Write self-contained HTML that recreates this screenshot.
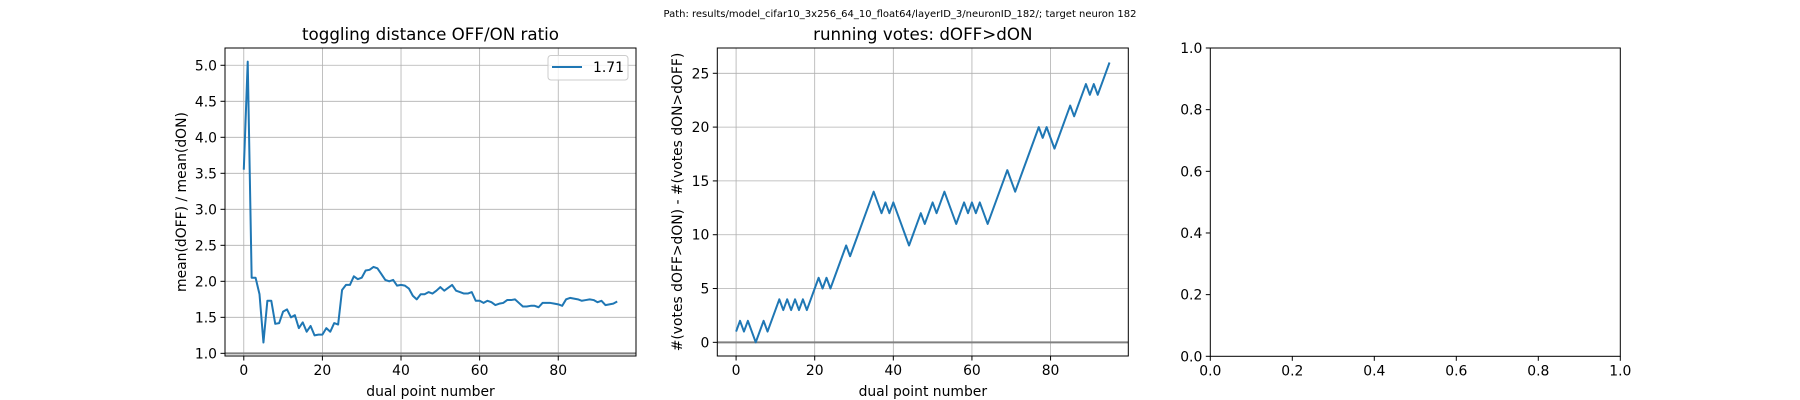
<!DOCTYPE html>
<html><head><meta charset="utf-8"><style>
html,body{margin:0;padding:0;background:#fff;}
svg{display:block;font-family:"DejaVu Sans","Liberation Sans",sans-serif;}
</style></head><body>
<svg id="fig" width="1800" height="400" viewBox="0 0 1800 400" xmlns="http://www.w3.org/2000/svg">
<rect width="1800" height="400" fill="#fff"/>
<text x="900" y="17" font-size="10" text-anchor="middle" fill="#000">Path: results/model_cifar10_3x256_64_10_float64/layerID_3/neuronID_182/; target neuron 182</text>
</svg>
<script>
const ratioValues=[3.55,5.05,2.05,2.05,1.82,1.15,1.73,1.73,1.41,1.42,1.58,1.61,1.5,1.53,1.35,1.43,1.3,1.38,1.25,1.26,1.26,1.35,1.3,1.42,1.4,1.88,1.95,1.95,2.07,2.03,2.05,2.15,2.16,2.2,2.18,2.1,2.02,2.0,2.02,1.94,1.95,1.94,1.9,1.8,1.75,1.82,1.82,1.85,1.83,1.87,1.92,1.87,1.91,1.95,1.87,1.85,1.83,1.83,1.85,1.73,1.73,1.7,1.73,1.71,1.67,1.69,1.7,1.74,1.74,1.75,1.7,1.65,1.65,1.66,1.66,1.64,1.7,1.7,1.7,1.69,1.68,1.66,1.75,1.77,1.76,1.75,1.73,1.74,1.75,1.74,1.71,1.73,1.67,1.68,1.69,1.72];
const voteValues=[1,2,1,2,1,0,1,2,1,2,3,4,3,4,3,4,3,4,3,4,5,6,5,6,5,6,7,8,9,8,9,10,11,12,13,14,13,12,13,12,13,12,11,10,9,10,11,12,11,12,13,12,13,14,13,12,11,12,13,12,13,12,13,12,11,12,13,14,15,16,15,14,15,16,17,18,19,20,19,20,19,18,19,20,21,22,21,22,23,24,23,24,23,24,25,26];
const ratioYTicks=["1.0","1.5","2.0","2.5","3.0","3.5","4.0","4.5","5.0"];
const voteYTicks=["0","5","10","15","20","25"];
const xTicks=["0","20","40","60","80"];
const emptyTicks=["0.0","0.2","0.4","0.6","0.8","1.0"];
const legendLabel="1.71";

const NS="http://www.w3.org/2000/svg";
const fig=document.getElementById('fig');
function el(tag,attrs,parent,text){const e=document.createElementNS(NS,tag);for(const k in attrs)e.setAttribute(k,attrs[k]);if(text!==undefined)e.textContent=text;(parent||fig).appendChild(e);return e;}
function scale(d0,d1,r0,r1){return v=>r0+(v-d0)*(r1-r0)/(d1-d0);}

function axes(o){
  const g=el('g',{});
  
  
  const X=scale(o.xlim[0],o.xlim[1],o.L,o.R), Y=scale(o.ylim[0],o.ylim[1],o.B,o.T);
  if(o.grid){
    o.xt.forEach(t=>{const x=X(+t);const l=el('line',{x1:x,x2:x,y1:o.T,y2:o.B,stroke:'#b0b0b0','stroke-width':0.8},g);});
    o.yt.forEach(t=>{const y=Y(+t);const l=el('line',{x1:o.L,x2:o.R,y1:y,y2:y,stroke:'#b0b0b0','stroke-width':0.8},g);});
  }
  if(o.hline!==undefined){const y=Y(o.hline);const h=el('line',{x1:o.L,x2:o.R,y1:y,y2:y,stroke:'#808080','stroke-width':2},g);}
  if(o.data){
    const pts=o.data.map((v,i)=>X(i).toFixed(2)+','+Y(v).toFixed(2)).join(' ');
    const p=el('polyline',{points:pts,fill:'none',stroke:'#1f77b4','stroke-width':2,'stroke-linejoin':'round'},g);
    
    
  }
  const fr=el('rect',{x:o.L,y:o.T,width:o.R-o.L,height:o.B-o.T,fill:'none',stroke:'#000','stroke-width':1},g);
  
  o.xt.forEach(t=>{const x=X(+t);el('line',{x1:x,x2:x,y1:o.B,y2:o.B+4.5,stroke:'#000','stroke-width':1},g);
    const tx=el('text',{x:x,y:o.B+19,'font-size':13.9,'text-anchor':'middle'},g,t);});
  o.yt.forEach(t=>{const y=Y(+t);el('line',{x1:o.L-4.5,x2:o.L,y1:y,y2:y,stroke:'#000','stroke-width':1},g);
    const tx=el('text',{x:o.L-8,y:y+5,'font-size':13.9,'text-anchor':'end'},g,t);});
  if(o.title){const t=el('text',{x:(o.L+o.R)/2,y:40,'font-size':16.7,'text-anchor':'middle'},g,o.title);}
  if(o.xlabel){const t=el('text',{x:(o.L+o.R)/2,y:396,'font-size':13.9,'text-anchor':'middle'},g,o.xlabel);}
  if(o.ylabel){const cy=(o.T+o.B)/2;const t=el('text',{x:o.ylx,y:cy,'font-size':13.9,'text-anchor':'middle',transform:`rotate(-90 ${o.ylx} ${cy})`},g,o.ylabel);}
  return {g,X,Y};
}

const a1=axes({name:'ratio-chart',L:225,R:636,T:48,B:356,xlim:[-4.78,99.78],ylim:[0.963,5.24],xt:xTicks,yt:ratioYTicks,grid:true,hline:1,data:ratioValues,seriesName:'ratio-line',title:'toggling distance OFF/ON ratio',xlabel:'dual point number',ylabel:'mean(dOFF) / mean(dON)',ylx:186});
const lg=el('g',{},a1.g);


el('rect',{x:548,y:55.5,width:80,height:24.5,rx:3,fill:'#fff','fill-opacity':0.8,stroke:'#ccc','stroke-width':1},lg);
el('line',{x1:552,x2:582,y1:67,y2:67,stroke:'#1f77b4','stroke-width':2},lg);
const lt=el('text',{x:593,y:72,'font-size':13.9},lg,legendLabel);



axes({name:'votes-chart',L:717.3,R:1128.3,T:48,B:356,xlim:[-4.78,99.78],ylim:[-1.27,27.35],xt:xTicks,yt:voteYTicks,grid:true,hline:0,data:voteValues,seriesName:'votes-line',title:'running votes: dOFF>dON',xlabel:'dual point number',ylabel:'#(votes dOFF>dON) - #(votes dON>dOFF)',ylx:682});

axes({name:'empty-chart',L:1210.3,R:1620.3,T:48,B:356.3,xlim:[0,1],ylim:[0,1],xt:emptyTicks,yt:emptyTicks,grid:false});
</script>
</body></html>
